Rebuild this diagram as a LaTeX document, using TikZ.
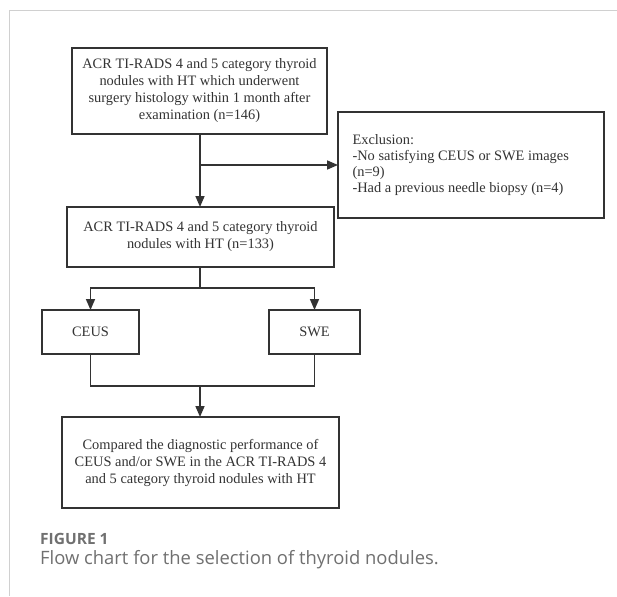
\documentclass[tikz,border=0pt]{standalone}
\usepackage{fontspec}
\setmainfont{Liberation Serif}
\newfontfamily\capfont{Open Sans}
\usetikzlibrary{arrows.meta}
\definecolor{linecol}{HTML}{333333}
\definecolor{framecol}{HTML}{D0D0D0}
\definecolor{capcol}{HTML}{707070}
\tikzset{
  boxstyle/.style={draw=linecol, line width=1.6pt, inner sep=0pt},
  txt/.style={font=\fontsize{14.4}{17}\selectfont, text=linecol, align=center},
  conn/.style={draw=linecol, line width=1.6pt},
  arr/.style={conn, -{Triangle[length=11pt,width=9pt]}},
}
\begin{document}
\begin{tikzpicture}[x=1pt,y=-1pt]
\useasboundingbox (0,0) rectangle (617,596);
\fill[white] (0,0) rectangle (617,596);
% frame
\draw[framecol, line width=1pt] (617,11) -- (9,11) -- (9,596);
% boxes
\draw[boxstyle] (72,48) rectangle (327,134);
\node[txt] (b1) at (199.5,91) {ACR TI-RADS 4 and 5 category thyroid\\nodules with HT which underwent\\surgery histology within 1 month after\\examination (n=146)};
\coordinate (b1s) at (200,134);
\draw[boxstyle] (338,112) rectangle (604,218);
\coordinate (exw) at (338,165);
\node[txt, align=left, anchor=west, font=\fontsize{14.4}{16}\selectfont] (ex) at (349,165) {Exclusion:\\-No satisfying CEUS or SWE images\\(n=9)\\-Had a previous needle biopsy (n=4)};
\draw[boxstyle] (67,207) rectangle (334,267);
\node[txt] (b2) at (200.5,237) {ACR TI-RADS 4 and 5 category thyroid\\nodules with HT (n=133)};
\coordinate (b2n) at (200,207);
\coordinate (b2s) at (200,267);
\draw[boxstyle] (42,310) rectangle (139,354);
\node[txt] (ceus) at (90.5,332) {CEUS};
\coordinate (cn) at (90.5,310);
\coordinate (cs) at (90.5,354);
\draw[boxstyle] (269,310) rectangle (360,354);
\node[txt] (swe) at (314.5,332) {SWE};
\coordinate (sn) at (314.5,310);
\coordinate (ss) at (314.5,354);
\draw[boxstyle] (62,417) rectangle (339,508);
\node[txt] (b3) at (200.5,463) {Compared the diagnostic performance of\\CEUS and/or SWE in the ACR TI-RADS 4\\and 5 category thyroid nodules with HT};
\coordinate (b3n) at (200,417);
% connectors
\coordinate (j1) at (200,165);
\draw[conn] (b1s) -- (j1);
\draw[arr] (j1) -- (b2n);
\draw[arr] (j1) -- (exw);
\coordinate (j2) at (200,288);
\draw[conn] (b2s) -- (j2);
\draw[arr] (j2) -| (cn);
\draw[arr] (j2) -| (sn);
\coordinate (j3) at (200,386);
\draw[conn] (cs) |- (j3);
\draw[conn] (ss) |- (j3);
\draw[arr] (j3) -- (b3n);
% caption
\node[anchor=base west, inner sep=0pt, text=capcol, font=\capfont\bfseries\fontsize{15.5}{18}\selectfont] (fig) at (40,544) {FIGURE 1};
\node[anchor=base west, inner sep=0pt, text=capcol, font=\capfont\fontsize{18.4}{21}\selectfont] (cap) at (40,564) {Flow chart for the selection of thyroid nodules.};
\end{tikzpicture}
\end{document}
